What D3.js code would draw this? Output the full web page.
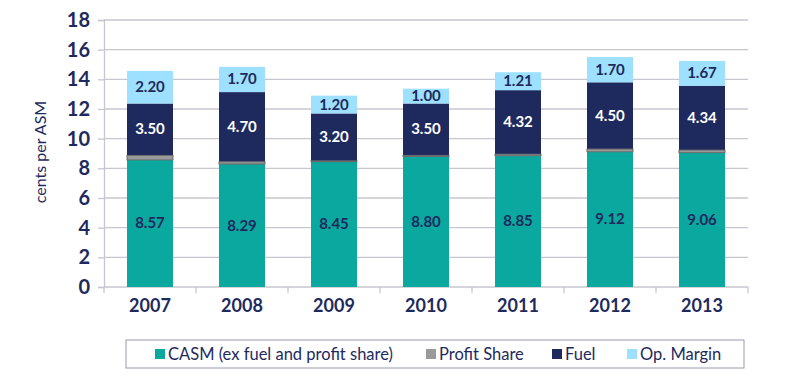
<!DOCTYPE html>
<html>
<head>
<meta charset="utf-8">
<script src="https://cdn.jsdelivr.net/npm/d3@7"></script>
<style>
  body { margin: 0; background: #fff; }
  text { font-family: Lato, "Open Sans", sans-serif; }
</style>
</head>
<body>
<div id="chart"></div>
<script>
(function (d3) {
  'use strict';

  // data
  var years = ['2007', '2008', '2009', '2010', '2011', '2012', '2013'];
  var casm = [8.57, 8.29, 8.45, 8.80, 8.85, 9.12, 9.06];
  var profitShare = [0.30, 0.15, 0.05, 0.07, 0.10, 0.18, 0.17];
  var fuel = [3.50, 4.70, 3.20, 3.50, 4.32, 4.50, 4.34];
  var opMargin = [2.20, 1.70, 1.20, 1.00, 1.21, 1.70, 1.67];
  var yTicks = [0, 2, 4, 6, 8, 10, 12, 14, 16, 18];

  var seriesNames = ['CASM (ex fuel and profit share)', 'Profit Share', 'Fuel', 'Op. Margin'];
  var colors = ['#0aa89e', '#9a9a9a', '#1e2a5e', '#9de0ff'];
  var labelColors = ['#1e2a5e', null, '#ffffff', '#1e2a5e'];

  var width = 800, height = 381;
  var left = 104, right = 748, top = 20, bottom = 287;

  var rows = years.map(function (y, i) {
    return { year: y, casm: casm[i], profit: profitShare[i], fuel: fuel[i], margin: opMargin[i] };
  });
  var keys = ['casm', 'profit', 'fuel', 'margin'];

  var x = d3.scaleBand().domain(years).range([left, right]).paddingInner(0.5).paddingOuter(0.25);
  var xb = d3.scaleBand().domain(years).range([left, right]);
  var y = d3.scaleLinear().domain([0, 18]).range([bottom, top]);

  var svg = d3.select('#chart').append('svg')
    .attr('width', width).attr('height', height);

  // gridlines
  svg.append('g').selectAll('line')
    .data(yTicks.slice(1))
    .enter().append('line')
    .attr('x1', left).attr('x2', right)
    .attr('y1', function (d) { return y(d); })
    .attr('y2', function (d) { return y(d); })
    .attr('stroke', '#c6c6ce').attr('stroke-width', 1.3);

  // y axis
  var yAxis = svg.append('g')
    .attr('transform', 'translate(' + left + ',0)')
    .call(d3.axisLeft(y).tickValues(yTicks).tickSize(6).tickPadding(8).tickFormat(d3.format('d')));
  yAxis.select('.domain').attr('stroke', '#c6c6ce').attr('stroke-width', 1.3);
  yAxis.selectAll('.tick line').attr('stroke', '#c6c6ce').attr('stroke-width', 1.3);
  yAxis.selectAll('.tick text')
    .attr('fill', '#1e2a5e').style('font-size', '20px').style('font-weight', 'bold');

  // x axis line and ticks at band edges
  svg.append('line')
    .attr('x1', left).attr('x2', right).attr('y1', bottom).attr('y2', bottom)
    .attr('stroke', '#c6c6ce').attr('stroke-width', 1.3);
  svg.append('g').selectAll('line')
    .data(years.concat(['end']))
    .enter().append('line')
    .attr('x1', function (d) { return d === 'end' ? right : xb(d); })
    .attr('x2', function (d) { return d === 'end' ? right : xb(d); })
    .attr('y1', bottom).attr('y2', bottom + 6)
    .attr('stroke', '#c6c6ce').attr('stroke-width', 1.3);

  svg.append('g').selectAll('text')
    .data(years)
    .enter().append('text')
    .attr('x', function (d) { return xb(d) + xb.bandwidth() / 2; })
    .attr('y', 312)
    .attr('text-anchor', 'middle')
    .attr('fill', '#1e2a5e')
    .style('font-size', '18px').style('font-weight', 'bold')
    .text(function (d) { return d; });

  // y label
  svg.append('text')
    .attr('transform', 'translate(46,152) rotate(-90)')
    .attr('text-anchor', 'middle')
    .attr('fill', '#1e2a5e')
    .style('font-size', '16px')
    .text('cents per ASM');

  // stacked bars
  var stack = d3.stack().keys(keys)(rows);

  var layers = svg.append('g').selectAll('g')
    .data(stack)
    .enter().append('g')
    .attr('fill', function (d, i) { return colors[i]; });

  layers.selectAll('rect')
    .data(function (d) { return d; })
    .enter().append('rect')
    .attr('x', function (d) { return x(d.data.year); })
    .attr('width', x.bandwidth())
    .attr('y', function (d) { return y(d[1]); })
    .attr('height', function (d) { return y(d[0]) - y(d[1]); });

  // profit share outline
  svg.append('g').selectAll('rect')
    .data(stack[1])
    .enter().append('rect')
    .attr('x', function (d) { return x(d.data.year); })
    .attr('width', x.bandwidth())
    .attr('y', function (d) { return y(d[1]); })
    .attr('height', function (d) { return Math.max(0, y(d[0]) - y(d[1])); })
    .attr('fill', 'none')
    .attr('stroke', '#6a6a6a')
    .attr('stroke-width', 1);

  // value labels
  [0, 2, 3].forEach(function (k) {
    svg.append('g').selectAll('text')
      .data(stack[k])
      .enter().append('text')
      .attr('x', function (d) { return x(d.data.year) + x.bandwidth() / 2; })
      .attr('y', function (d) { return (y(d[0]) + y(d[1])) / 2 + 5; })
      .attr('text-anchor', 'middle')
      .attr('fill', labelColors[k])
      .style('font-size', '15px').style('font-weight', 'bold')
      .text(function (d) { return (d[1] - d[0]).toFixed(2); });
  });

  // legend
  var legend = svg.append('g');
  legend.append('rect')
    .attr('x', 126).attr('y', 340).attr('width', 618).attr('height', 28)
    .attr('fill', '#fff').attr('stroke', '#9a9ab4').attr('stroke-width', 1);

  var legendX = [155, 426, 552, 627];
  var items = legend.selectAll('.legend')
    .data(seriesNames)
    .enter().append('g')
    .attr('class', 'legend')
    .attr('transform', function (d, i) { return 'translate(' + legendX[i] + ',354)'; });

  items.append('rect')
    .attr('x', 0).attr('y', -5).attr('width', 10).attr('height', 10)
    .attr('fill', function (d, i) { return colors[i]; });

  items.append('text')
    .attr('x', 13).attr('y', 6)
    .attr('fill', '#1e2a5e')
    .style('font-size', '16.5px')
    .text(function (d) { return d; });
})(window.d3);
</script>
</body>
</html>
